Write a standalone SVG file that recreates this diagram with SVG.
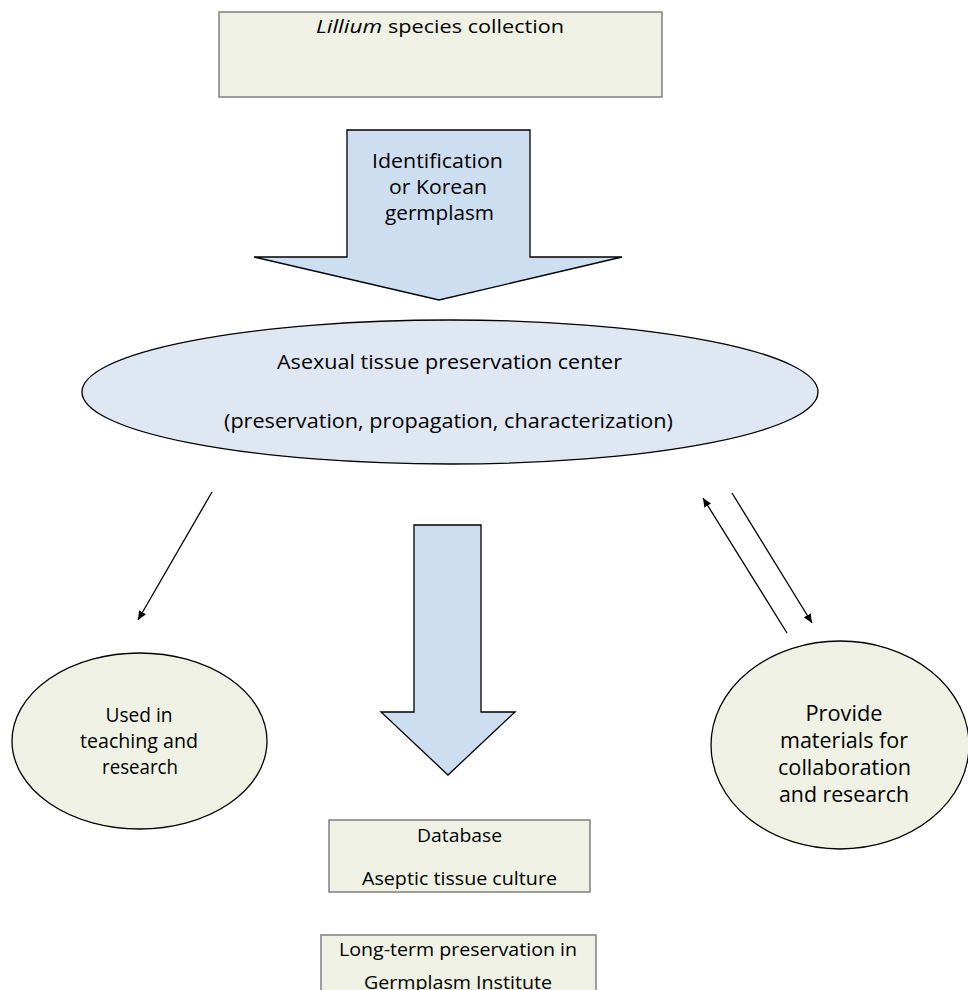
<svg xmlns="http://www.w3.org/2000/svg" width="968" height="990" viewBox="0 0 968 990">
<style>
.box{fill:#EEF1E3;stroke:#7F7F7F;stroke-width:1.5}
.circ{fill:#EEF1E3;stroke:#000;stroke-width:1.3}
.ell{fill:#DEE7F2;stroke:#000;stroke-width:1.3}
.barrow{fill:#CDDEF0;stroke:#000;stroke-width:1.3;stroke-linejoin:miter}
.t{font-family:"Open Sans","Liberation Sans",sans-serif;fill:#000;text-anchor:middle}
.s{font-family:"Open Sans","Liberation Sans",sans-serif;fill:#000;text-anchor:start}
.conn{stroke:#000;stroke-width:1.3;fill:none;marker-end:url(#ah)}
</style>
<defs>
<marker id="ah" markerUnits="userSpaceOnUse" markerWidth="10" markerHeight="8" refX="9" refY="4" orient="auto">
<path d="M0,0 L9,4 L0,8 z" fill="#000"/>
</marker>
</defs>
<rect width="968" height="990" fill="#fff"/>
<g id="collection">
<rect class="box" x="219" y="12" width="443" height="85"/>
<text class="s" x="316" y="33" font-size="17.5" font-style="italic" textLength="66" lengthAdjust="spacingAndGlyphs">Lillium</text>
<text class="s" x="388" y="33" font-size="17.5" textLength="176" lengthAdjust="spacingAndGlyphs">species collection</text>
</g>
<g id="identification">
<path class="barrow" d="M347,130 L530,130 L530,257 L622,257 L439,300 L254,257 L347,257 Z"/>
<text class="t" x="437.5" y="168" font-size="19.5" textLength="131" lengthAdjust="spacingAndGlyphs">Identification</text>
<text class="t" x="438" y="194" font-size="19.5" textLength="98" lengthAdjust="spacingAndGlyphs">or Korean</text>
<text class="t" x="439.5" y="220" font-size="19.5" textLength="109" lengthAdjust="spacingAndGlyphs">germplasm</text>
</g>
<g id="center">
<ellipse class="ell" cx="450" cy="392" rx="368" ry="72"/>
<text class="t" x="449.5" y="369" font-size="19.5" textLength="345" lengthAdjust="spacingAndGlyphs">Asexual tissue preservation center</text>
<text class="t" x="448.5" y="428" font-size="19.5" textLength="449" lengthAdjust="spacingAndGlyphs">(preservation, propagation, characterization)</text>
</g>
<g id="down-arrow">
<path class="barrow" d="M414,525 L481,525 L481,712 L515,712 L448,775 L381,712 L414,712 Z"/>
</g>
<g id="teaching">
<ellipse class="circ" cx="139.5" cy="741" rx="127.5" ry="88"/>
<text class="t" x="139" y="722" font-size="20" textLength="67" lengthAdjust="spacingAndGlyphs">Used in</text>
<text class="t" x="139" y="748" font-size="20" textLength="118" lengthAdjust="spacingAndGlyphs">teaching and</text>
<text class="t" x="140" y="774" font-size="20" textLength="76" lengthAdjust="spacingAndGlyphs">research</text>
</g>
<g id="collaboration">
<ellipse class="circ" cx="840" cy="745" rx="129" ry="104"/>
<text class="t" x="844" y="721" font-size="21" textLength="77" lengthAdjust="spacingAndGlyphs">Provide</text>
<text class="t" x="844" y="748" font-size="21" textLength="128" lengthAdjust="spacingAndGlyphs">materials for</text>
<text class="t" x="844.5" y="775" font-size="21" textLength="133" lengthAdjust="spacingAndGlyphs">collaboration</text>
<text class="t" x="844" y="802" font-size="21" textLength="130" lengthAdjust="spacingAndGlyphs">and research</text>
</g>
<g id="database">
<rect class="box" x="329" y="820" width="261" height="72"/>
<text class="t" x="459.5" y="842" font-size="18.5" textLength="85" lengthAdjust="spacingAndGlyphs">Database</text>
<text class="t" x="459.5" y="885" font-size="18.5" textLength="195" lengthAdjust="spacingAndGlyphs">Aseptic tissue culture</text>
</g>
<g id="longterm">
<rect class="box" x="321" y="935" width="275" height="70"/>
<text class="t" x="458" y="956" font-size="18.5" textLength="238" lengthAdjust="spacingAndGlyphs">Long-term preservation in</text>
<text class="t" x="458" y="989" font-size="18.5" textLength="188" lengthAdjust="spacingAndGlyphs">Germplasm Institute</text>
</g>
<g id="connectors">
<line class="conn" x1="212" y1="492" x2="138" y2="620"/>
<line class="conn" x1="787" y1="633" x2="703" y2="498"/>
<line class="conn" x1="732" y1="493" x2="812" y2="623"/>
</g>
</svg>
